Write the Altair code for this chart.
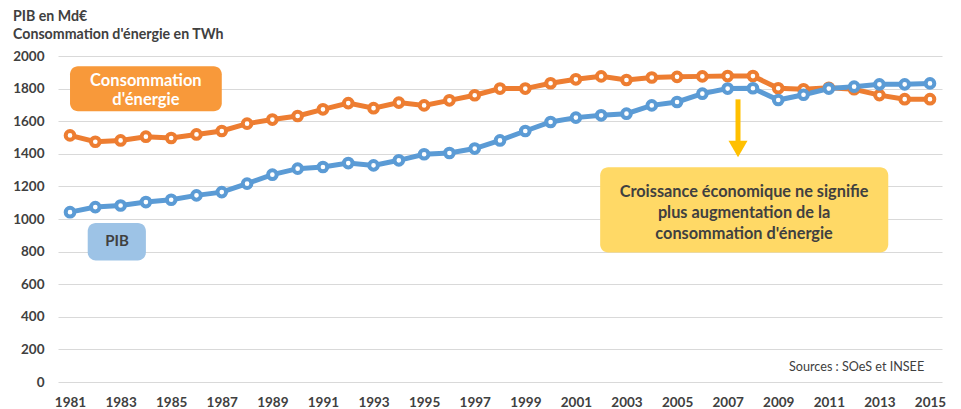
import altair as alt
import pandas as pd

years = list(range(1981, 2016))
conso = [1513, 1474, 1482, 1505, 1497, 1519, 1540, 1585, 1610, 1632,
         1673, 1711, 1680, 1714, 1697, 1728, 1759, 1800, 1800, 1833,
         1857, 1875, 1853, 1868, 1872, 1875, 1877, 1877, 1802, 1796,
         1805, 1796, 1760, 1735, 1735]
pib = [1042, 1073, 1083, 1104, 1118, 1145, 1165, 1217, 1272, 1309,
       1319, 1343, 1329, 1360, 1397, 1405, 1432, 1482, 1540, 1595,
       1622, 1636, 1646, 1697, 1718, 1769, 1800, 1802, 1730, 1762,
       1800, 1812, 1826, 1826, 1832]
series_names = ["Consommation d'énergie", "PIB"]
series_colors = ["#ED7D31", "#5B9BD5"]
x_ticks = list(range(1981, 2016, 2))
y_ticks = list(range(0, 2001, 200))

FONT = "Lato"
TXT = "#404040"

rows = []
for y, c, p in zip(years, conso, pib):
    rows.append({"year": y, "value": c, "serie": series_names[0]})
    rows.append({"year": y, "value": p, "serie": series_names[1]})
df = pd.DataFrame(rows)

xs = alt.Scale(domain=[1980.525, 2015.475], nice=False, zero=False)
ys = alt.Scale(domain=[0, 2000], nice=False)
cs = alt.Scale(domain=series_names, range=series_colors)

AX = alt.Axis(values=x_ticks, format="d", grid=False, domain=False,
              ticks=False, labelFont=FONT, labelFontWeight="bold", labelFontSize=13.5,
              labelColor=TXT, labelPadding=13, title=None, labelFlush=False, labelOverlap=False)
AY = alt.Axis(values=y_ticks, format="d", grid=True,
              gridColor="#D9D9D9", domain=False, ticks=False, labelFont=FONT, labelFontWeight="bold",
              labelFontSize=13.5, labelColor=TXT, labelPadding=14, title=None, labelOverlap=False,
              labelFlush=False)


def qx(f):
    return alt.X(f, type="quantitative", scale=xs, axis=AX)


def qy(f):
    return alt.Y(f, type="quantitative", scale=ys, axis=AY)


base = alt.Chart(df)
lines = base.mark_line(strokeWidth=5).encode(
    x=qx("year"), y=qy("value"), color=alt.Color("serie:N", scale=cs, legend=None), detail="serie:N")
points = base.mark_point(filled=False, fill="white", fillOpacity=1, strokeWidth=4, size=75, opacity=1).encode(
    x=qx("year"), y=qy("value"), stroke=alt.Stroke("serie:N", scale=cs, legend=None))

# annotation boxes (in data units)
boxes = pd.DataFrame([
    {"bx": 1981.0, "bx2": 1987.0, "by": 1937, "by2": 1661, "c": "#F8993A"},
    {"bx": 1981.7, "bx2": 1984.0, "by": 975, "by2": 746, "c": "#9DC3E6"},
    {"bx": 2001.96, "bx2": 2013.35, "by": 1317, "by2": 795, "c": "#FFD966"},
])
rects = alt.Chart(boxes).mark_rect(cornerRadius=8).encode(
    x=qx("bx"), x2="bx2", y=qy("by"), y2="by2", color=alt.Color("c:N", scale=None))

labels = pd.DataFrame([
    {"lx": 1984.0, "ly": 1847, "t": "Consommation", "c": "white", "s": 16.5},
    {"lx": 1984.0, "ly": 1728, "t": "d'énergie", "c": "white", "s": 16.5},
    {"lx": 1982.86, "ly": 862, "t": "PIB", "c": TXT, "s": 15},
    {"lx": 2007.65, "ly": 1167, "t": "Croissance économique ne signifie", "c": TXT, "s": 16.3},
    {"lx": 2007.65, "ly": 1035, "t": "plus augmentation de la", "c": TXT, "s": 16.3},
    {"lx": 2007.65, "ly": 906, "t": "consommation d'énergie", "c": TXT, "s": 16.3},
])
texts = alt.Chart(labels).mark_text(font=FONT, fontWeight="bold", align="center", baseline="middle").encode(
    x=qx("lx"), y=qy("ly"), text="t:N", color=alt.Color("c:N", scale=None), size=alt.Size("s:Q", scale=None))

arrow_df = pd.DataFrame([{"ax": 2007.41, "ay": 1734, "ay2": 1470, "ah": 1430}])
shaft = alt.Chart(arrow_df).mark_rule(color="#FFC000", strokeWidth=5).encode(
    x=qx("ax"), y=qy("ay"), y2="ay2")
head = alt.Chart(arrow_df).mark_point(shape="triangle-down", filled=True, color="#FFC000",
                                      size=361, opacity=1).encode(x=qx("ax"), y=qy("ah"))

src = pd.DataFrame([{"sx": 2014.77, "sy": 95, "t": "Sources : SOeS et INSEE"}])
source = alt.Chart(src).mark_text(font=FONT, fontSize=12.6, color=TXT, align="right", baseline="middle").encode(
    x=qx("sx"), y=qy("sy"), text="t:N")

title_lines = ["PIB en Md€", "Consommation d'énergie en TWh"]
title1 = alt.Chart(pd.DataFrame({"t": [title_lines[0]]})).mark_text(
    font=FONT, fontSize=14.2, fontWeight="bold", color=TXT, align="left", baseline="middle").encode(
    x=alt.value(-45), y=alt.value(-39), text="t:N")
title2 = alt.Chart(pd.DataFrame({"t": [title_lines[1]]})).mark_text(
    font=FONT, fontSize=14.2, fontWeight="bold", color=TXT, align="left", baseline="middle").encode(
    x=alt.value(-45), y=alt.value(-21.5), text="t:N")

chart = alt.layer(lines, points, rects, texts, shaft, head, source, title1, title2).properties(
    width=884, height=326,
    padding={"left": 50, "top": 48, "right": 11, "bottom": 30},
    autosize=alt.AutoSizeParams(type="none"),
    background="white",
).configure_view(stroke=None)

chart.save("out.html", embed_options={"renderer": "svg", "actions": False})
